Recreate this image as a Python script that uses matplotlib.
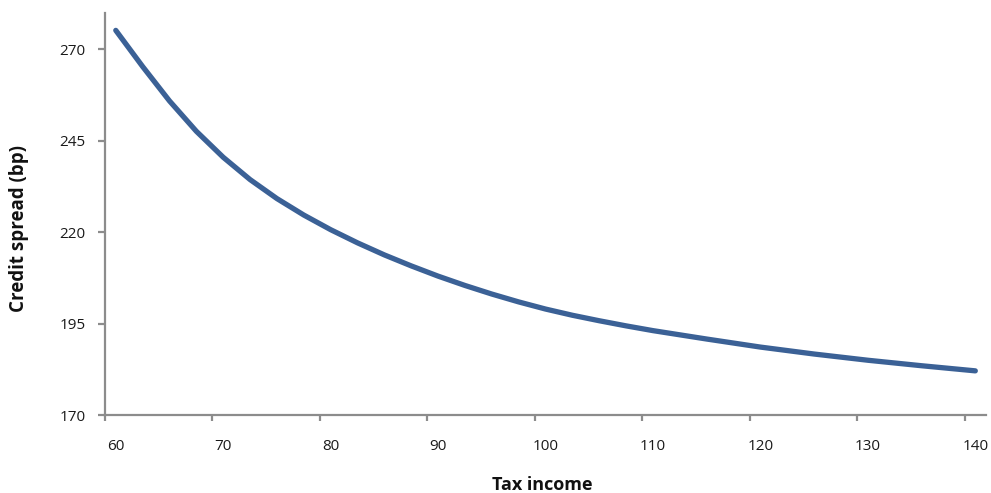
import matplotlib
matplotlib.use("Agg")
import matplotlib.pyplot as plt
from matplotlib.ticker import FixedLocator, NullFormatter

plt.rcParams['font.family'] = ['Open Sans', 'DejaVu Sans']

tax_income = [60, 62.5, 65, 67.5, 70, 72.5, 75, 77.5, 80, 82.5, 85, 87.5, 90,
              92.5, 95, 97.5, 100, 102.5, 105, 107.5, 110, 115, 120, 125,
              130, 135, 140]
credit_spread = [275.2, 265.3, 255.9, 247.6, 240.5, 234.4, 229.2, 224.7,
                 220.7, 217.1, 213.8, 210.8, 208.0, 205.45, 203.1, 200.95,
                 199.0, 197.3, 195.8, 194.4, 193.1, 190.8, 188.6, 186.7,
                 185.0, 183.5, 182.1]
x_labels = [60, 70, 80, 90, 100, 110, 120, 130, 140]
y_ticks = [170, 195, 220, 245, 270]

fig = plt.figure(figsize=(9.91, 4.93), dpi=100)
ax = fig.add_axes([0.106, 0.158, 0.889, 0.816])

ax.plot(tax_income, credit_spread, color='#3b6196', lw=3.8,
        solid_capstyle='round', solid_joinstyle='round')

ax.set_xlim(59, 141)
ax.set_ylim(170, 280)

grey = '#8c8c8c'
for s in ['top', 'right']:
    ax.spines[s].set_visible(False)
for s in ['left', 'bottom']:
    ax.spines[s].set_color(grey)
    ax.spines[s].set_linewidth(1.6)

# major ticks sit at category boundaries, labels at category centres
ax.xaxis.set_major_locator(FixedLocator([v - 1 for v in x_labels]))
ax.xaxis.set_major_formatter(NullFormatter())
ax.xaxis.set_minor_locator(FixedLocator(x_labels))
ax.set_xticklabels([str(v) for v in x_labels], minor=True)
ax.tick_params(axis='x', which='major', direction='out', length=4.5,
               width=1.6, color=grey)
ax.tick_params(axis='x', which='minor', length=0, pad=17,
               labelsize=11, labelcolor='#1a1a1a')

ax.set_yticks(y_ticks)
ax.set_yticklabels([str(v) for v in y_ticks])
ax.tick_params(axis='y', direction='out', length=5, width=1.6, color=grey,
               pad=9, labelsize=11, labelcolor='#1a1a1a')

fig.text(0.5474, 0.0061, 'Tax income', fontsize=13, fontweight='bold',
         ha='center', va='baseline', color='#111111')
fig.text(0.0242, 0.5355, 'Credit spread (bp)', fontsize=13.5,
         fontweight='bold', ha='center', va='baseline', rotation=90,
         rotation_mode='anchor', color='#111111')

fig.savefig('out.png', dpi=100)
